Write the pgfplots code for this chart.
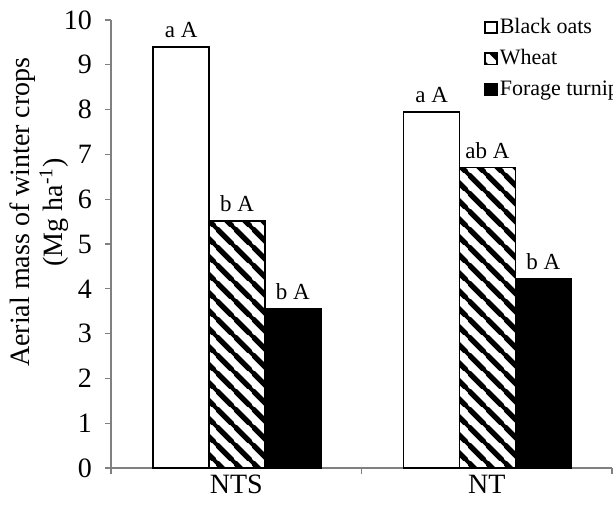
\documentclass[border=0pt]{standalone}
\usepackage{pgfplots}
\pgfplotsset{compat=1.18}
\usepackage{fontspec}
\setmainfont{Liberation Serif}
\usetikzlibrary{patterns}
\definecolor{axgray}{RGB}{128,128,128}
\pgfdeclarepatternformonly{wheatstripes}{\pgfqpoint{0pt}{0pt}}{\pgfqpoint{9pt}{9pt}}{\pgfqpoint{9pt}{9pt}}{
  \pgfsetlinewidth{2.8pt}
  \pgfpathmoveto{\pgfqpoint{-1pt}{10pt}}\pgfpathlineto{\pgfqpoint{10pt}{-1pt}}
  \pgfpathmoveto{\pgfqpoint{-2pt}{1pt}}\pgfpathlineto{\pgfqpoint{1pt}{-2pt}}
  \pgfpathmoveto{\pgfqpoint{8pt}{11pt}}\pgfpathlineto{\pgfqpoint{11pt}{8pt}}
  \pgfusepath{stroke}
}
\begin{document}
\begin{tikzpicture}
\begin{axis}[
  name=ax,
  scale only axis, width=250.5pt, height=224pt,
  xmin=0, xmax=2, ymin=0, ymax=10,
  axis x line=bottom, axis y line=left,
  axis line style={draw=axgray, line width=0.6pt, -},
  ytick={0,1,...,10},
  xtick={0,1,2}, xticklabels={},
  extra x ticks={0.5,1.5}, extra x tick labels={NTS,NT},
  extra x tick style={major tick length=0pt},
  tick align=outside, major tick length=3pt,
  tick style={draw=axgray, line width=0.6pt},
  ticklabel style={font=\fontsize{14}{16}\selectfont},
  yticklabel style={xshift=-3pt},
  /pgf/number format/assume math mode=true,
  ylabel={Aerial mass of winter crops\\(Mg ha\textsuperscript{-1})},
  ylabel style={align=center, font=\fontsize{14}{16.5}\selectfont, at={(axis description cs:-0.1427,0.571)}, anchor=center},
  ybar, bar width=0.2236,
  nodes near coords, point meta=explicit symbolic,
  nodes near coords style={font=\fontsize{11.5}{13}\selectfont, anchor=south, inner sep=0pt, yshift=4pt},
  legend style={at={(axis description cs:0.7445,1.009)}, anchor=north west, draw=none, fill=none,
    font=\fontsize{11}{12}\selectfont, row sep=4.5pt, inner sep=0pt, nodes={inner sep=1pt}},
  legend cell align=left,
]
\addplot[bar shift=0pt, draw=black, fill=white, line width=0.8pt,
  legend image code/.code={\draw[draw=black, fill=white, line width=0.7pt] (0pt,-2.8pt) rectangle (6pt,2.8pt);}]
  coordinates {(0.280,9.40) [a A] (1.280,7.95) [a A]};
\addlegendentry{Black oats}
\addplot[bar shift=0pt, draw=black, line width=0.8pt, pattern=wheatstripes, pattern color=black,
  legend image code/.code={\draw[draw=black, line width=0.7pt, pattern=wheatstripes, pattern color=black] (0pt,-2.8pt) rectangle (6pt,2.8pt);}]
  coordinates {(0.503,5.52) [b A] (1.503,6.71) [ab A]};
\addlegendentry{Wheat}
\addplot[bar shift=0pt, draw=black, fill=black, line width=0.8pt,
  legend image code/.code={\draw[draw=black, fill=black, line width=0.7pt] (0pt,-2.8pt) rectangle (6pt,2.8pt);}]
  coordinates {(0.726,3.56) [b A] (1.726,4.22) [b A]};
\addlegendentry{Forage turnip}
\end{axis}
\pgfresetboundingbox
\path[use as bounding box] ([shift={(-55.5pt,-23pt)}]ax.south west) rectangle ([shift={(0.5pt,10pt)}]ax.north east);
\end{tikzpicture}
\end{document}
